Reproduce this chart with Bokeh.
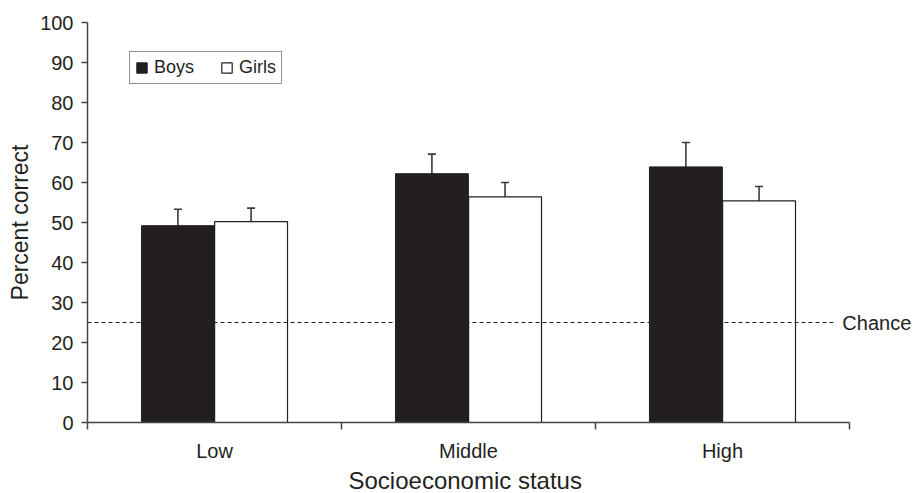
import numpy as np
from bokeh.plotting import figure
from bokeh.models import (Range1d, FixedTicker, ColumnDataSource, Whisker, TeeHead,
                          Label, Legend, LegendItem, Title)
from bokeh.embed import file_html
from bokeh.resources import INLINE

# ---- data ----
categories = ["Low", "Middle", "High"]
boys = [49.2, 62.2, 63.9]
girls = [50.2, 56.4, 55.4]
boys_se = [4.1, 4.9, 6.1]
girls_se = [3.4, 3.6, 3.6]
chance_level = 25
chance_text = "Chance"
x_title = "Socioeconomic status"
y_title = "Percent correct"
y_ticks = list(range(0, 101, 10))

INK = "#231f20"
FONT = "Liberation Sans"

n = len(categories)
idx = np.arange(n)
off = 0.144
bw = 0.287
boys_x = idx + 0.5 - off
girls_x = idx + 0.5 + off

p = figure(width=914, height=493, x_range=Range1d(0, 3.256), y_range=Range1d(0, 100),
           output_backend="svg", toolbar_location=None,
           min_border_left=87, min_border_right=0, min_border_top=22, min_border_bottom=70)
p.outline_line_color = None
p.xgrid.visible = False
p.ygrid.visible = False
p.background_fill_color = "white"

src_b = ColumnDataSource(dict(x=boys_x, top=boys, upper=np.array(boys) + np.array(boys_se)))
src_g = ColumnDataSource(dict(x=girls_x, top=girls, upper=np.array(girls) + np.array(girls_se)))

rb = p.vbar(x="x", top="top", width=bw, bottom=0, source=src_b, fill_color=INK, line_color=INK, line_width=1)
rg = p.vbar(x="x", top="top", width=bw, bottom=0, source=src_g, fill_color="white", line_color=INK, line_width=1.2)

for src in (src_b, src_g):
    w = Whisker(base="x", lower="top", upper="upper", source=src, dimension="height",
                line_color="#3a3a3a", line_width=1.6,
                upper_head=TeeHead(size=8, line_color="#3a3a3a", line_width=1.6), lower_head=None)
    p.add_layout(w)

# chance line
p.line(x=[0, 2.937], y=[chance_level, chance_level], line_color=INK, line_width=1, line_dash="4 3")
p.add_layout(Label(x=2.972, y=chance_level, text=chance_text, text_font=FONT, text_font_size="20px",
                   text_color=INK, text_align="left", text_baseline="middle"))

# axes
xa = p.xaxis[0]
xa.bounds = (0, n)
xa.ticker = FixedTicker(ticks=list(idx + 0.5), minor_ticks=list(range(n + 1)))
xa.major_label_overrides = {float(i + 0.5): c for i, c in enumerate(categories)}
xa.major_tick_out = 0
xa.major_tick_in = 0
xa.minor_tick_out = 7
xa.minor_tick_in = 0
xa.minor_tick_line_color = "#444444"
xa.minor_tick_line_width = 1.5
xa.major_label_standoff = 10

ya = p.yaxis[0]
ya.ticker = FixedTicker(ticks=y_ticks, minor_ticks=[])
ya.major_tick_out = 6
ya.major_tick_in = 0
ya.axis_label = y_title
ya.major_label_standoff = 8
ya.axis_label_standoff = 4
ya.axis_label_text_font = FONT
ya.axis_label_text_font_size = "23px"
ya.axis_label_text_font_style = "normal"
ya.axis_label_text_color = INK

for ax in (xa, ya):
    ax.axis_line_color = "#444444"
    ax.axis_line_width = 1.5
    ax.major_tick_line_color = "#444444"
    ax.major_tick_line_width = 1.5
    ax.major_label_text_font = FONT
    ax.major_label_text_font_size = "20px"
    ax.major_label_text_color = INK

# x axis title, centred where the reference has it
p.add_layout(Title(text=x_title, align="left", offset=261, standoff=0,
                   text_font=FONT, text_font_size="24px", text_font_style="normal",
                   text_color=INK), "below")

legend = Legend(items=[LegendItem(label="Boys", renderers=[rb]), LegendItem(label="Girls", renderers=[rg])],
                orientation="horizontal", location=(42, 338),
                glyph_width=13, glyph_height=13, label_standoff=6, spacing=26, padding=5,
                label_height=18, margin=0,
                label_text_font=FONT, label_text_font_size="18px", label_text_color=INK,
                border_line_color=INK, border_line_width=1.2, background_fill_color="white")
p.add_layout(legend)

open("out.html", "w").write(file_html(p, INLINE))
